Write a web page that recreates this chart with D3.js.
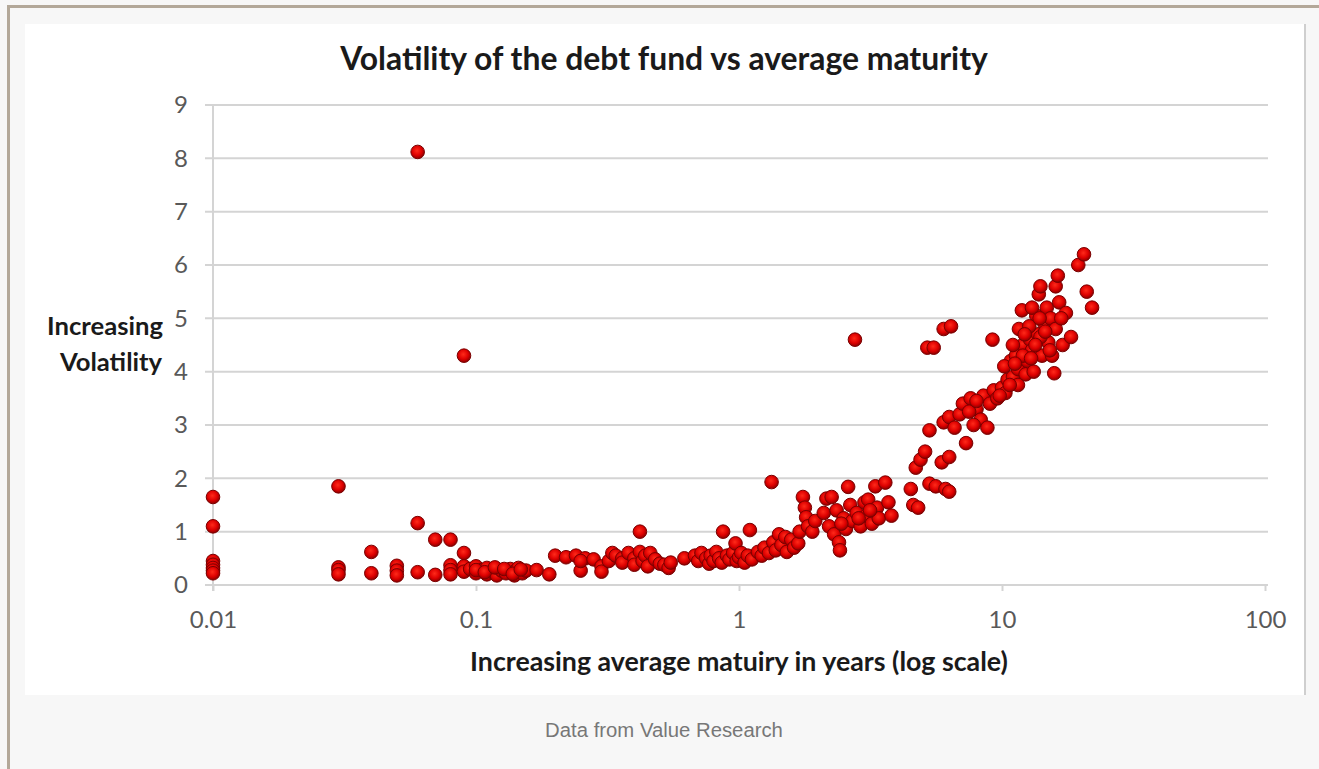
<!DOCTYPE html>
<html>
<head>
<meta charset="utf-8">
<script src="https://cdn.jsdelivr.net/npm/d3@7"></script>
<style>
  html, body { margin: 0; padding: 0; background: #f7f7f7; }
  svg { display: block; }
</style>
</head>
<body>
<svg id="chart" width="1319" height="769"></svg>
<script>
// ---------- data ----------
const titleText = "Volatility of the debt fund vs average maturity";
const xLabelText = "Increasing average matuiry in years (log scale)";
const yLabelLines = ["Increasing", "Volatility"];
const captionText = "Data from Value Research";
const xTickValues = [0.01, 0.1, 1, 10, 100];
const xTickLabels = ["0.01", "0.1", "1", "10", "100"];
const yTickValues = [0, 1, 2, 3, 4, 5, 6, 7, 8, 9];

// average maturity (years)
const maturity = [
  0.01,0.01,0.01,0.01,0.01,0.01,0.01,
  0.03,0.03,0.03,0.03,
  0.04,0.04,
  0.05,0.05,0.05,
  0.06,0.06,0.06,
  0.07,0.07,
  0.08,0.08,0.08,0.08,
  0.09,0.09,0.09,0.09,
  0.095,0.1,0.1,0.105,0.11,0.11,0.115,0.12,0.12,0.125,0.13,0.135,0.14,0.14,0.145,0.15,0.155,
  0.1,0.108,0.118,0.128,0.138,0.148,
  0.17,0.19,
  0.2,0.22,0.24,0.26,0.25,0.25,
  0.28,0.3,0.3,0.32,0.33,0.34,0.36,0.36,
  0.38,0.4,0.4,0.42,0.42,0.43,0.44,0.45,0.46,0.48,0.5,0.52,0.54,0.55,
  0.62,0.68,0.7,0.72,0.75,0.77,0.78,0.8,0.82,0.84,0.86,0.87,0.9,0.92,0.95,0.97,0.98,1.0,1.02,1.05,1.08,1.1,1.12,1.18,1.22,1.25,
  1.3,1.33,1.35,1.38,1.42,1.45,1.5,1.52,1.58,1.62,1.68,1.7,
  1.75,1.78,1.8,1.83,1.9,1.95,
  2.1,2.15,2.2,2.25,2.3,2.35,2.4,2.42,2.5,2.55,2.6,2.65,2.7,2.76,2.8,2.9,3.0,3.05,3.1,3.2,3.3,3.35,3.4,3.6,3.7,3.8,
  2.45,2.85,3.15,
  4.5,4.6,4.8,4.7,4.9,5.1,5.3,5.3,5.6,6.1,6.3,5.9,6.3,5.2,5.5,6.0,6.4,
  6.0,6.3,6.6,6.9,7.3,7.1,7.6,8.0,8.3,8.8,8.5,9.0,9.2,9.3,9.6,10.0,10.3,10.5,10.8,11.0,11.3,11.5,11.6,11.9,12.0,12.3,12.5,12.8,13.0,13.2,13.5,13.7,13.8,14.0,14.2,14.5,14.8,15.0,15.3,15.8,16.0,16.0,16.3,16.5,17.0,17.5,18.3,19.5,20.5,21.0,22.0,
  10.2,11.0,12.0,12.7,13.0,14.0,15.5,16.8,11.5,10.7,7.5,8.0,7.8,
  11.2,12.2,13.4,14.6,15.2,13.9,12.9,9.8
];
// volatility
const volatility = [
  1.65,1.1,0.45,0.38,0.32,0.27,0.22,
  1.85,0.33,0.28,0.2,
  0.62,0.22,
  0.36,0.27,0.18,
  8.12,1.16,0.24,
  0.85,0.19,
  0.85,0.37,0.28,0.2,
  4.3,0.6,0.35,0.25,
  0.3,0.35,0.22,0.28,0.32,0.2,0.25,0.3,0.18,0.27,0.22,0.3,0.25,0.18,0.32,0.22,0.27,
  0.28,0.24,0.33,0.3,0.21,0.29,
  0.28,0.2,
  0.55,0.52,0.55,0.5,0.27,0.45,
  0.48,0.35,0.25,0.45,0.6,0.55,0.5,0.42,
  0.6,0.5,0.38,1.0,0.62,0.45,0.55,0.35,0.6,0.48,0.4,0.38,0.32,0.42,
  0.5,0.55,0.45,0.6,0.5,0.4,0.55,0.45,0.62,0.5,0.42,1.0,0.55,0.48,0.6,0.78,0.45,0.52,0.6,0.42,0.55,1.03,0.48,0.62,0.55,0.7,
  0.6,1.93,0.8,0.65,0.95,0.75,0.9,0.62,0.85,0.7,0.78,1.0,
  1.65,1.45,1.27,1.1,1.0,1.2,
  1.35,1.62,1.1,1.65,0.95,1.4,0.8,0.65,1.25,1.05,1.84,1.5,1.2,4.6,1.35,1.1,1.55,1.3,1.6,1.15,1.85,1.45,1.25,1.92,1.55,1.3,
  1.15,1.25,1.4,
  1.8,1.5,1.45,2.2,2.35,2.5,2.9,1.9,1.85,1.8,1.75,2.3,2.4,4.45,4.45,4.8,4.85,
  3.05,3.15,2.95,3.2,2.66,3.4,3.5,3.3,3.1,2.95,3.55,3.4,4.6,3.65,3.5,3.7,3.6,3.85,4.2,3.9,4.3,4.05,4.8,5.15,4.5,3.95,4.2,4.6,4.4,4.0,5.05,4.7,5.45,5.6,4.3,4.9,5.2,4.55,5.0,3.97,4.8,5.6,5.8,5.3,4.5,5.1,4.65,6.0,6.2,5.5,5.2,
  4.1,4.5,4.3,4.85,5.2,4.65,4.3,5.0,3.75,3.75,3.25,3.45,3.0,
  4.15,4.7,4.5,4.75,4.4,5.0,4.25,3.55
];

// ---------- layout ----------
const svg = d3.select("#chart");
const W = 1319, H = 769;

// outer frame lines
svg.append("rect").attr("x", 7).attr("y", 5).attr("width", W - 7).attr("height", 3).attr("fill", "#b3a899");
svg.append("rect").attr("x", 7).attr("y", 5).attr("width", 3).attr("height", H - 5).attr("fill", "#b3a899");

// white image panel
svg.append("rect").attr("x", 25).attr("y", 24).attr("width", 1280).attr("height", 671).attr("fill", "#ffffff");
svg.append("rect").attr("x", 1304).attr("y", 24).attr("width", 2).attr("height", 671).attr("fill", "#cfcfcf");

const x = d3.scaleLog().domain([0.01, 100]).range([213, 1265]);
const y = d3.scaleLinear().domain([0, 9]).range([585, 105]);

const tickColor = "#595959";
const fontUI = "Lato, 'Open Sans', 'DejaVu Sans', sans-serif";

// gridlines
svg.append("g").selectAll("line").data(yTickValues).join("line")
  .attr("x1", 205).attr("x2", 1268)
  .attr("y1", d => y(d)).attr("y2", d => y(d))
  .attr("stroke", "#d4d4d4").attr("stroke-width", 2);

// vertical axis line
svg.append("line").attr("x1", x(0.01)).attr("x2", x(0.01))
  .attr("y1", y(9)).attr("y2", y(0) + 6)
  .attr("stroke", "#d4d4d4").attr("stroke-width", 2);

// y axis
const yAxis = d3.axisLeft(y).tickValues(yTickValues).tickSize(0).tickPadding(0).tickFormat(d3.format("d"));
const gy = svg.append("g").attr("transform", "translate(188,0)").call(yAxis);
gy.attr("font-size", null).attr("font-family", null);
gy.select(".domain").remove();
gy.selectAll("text").attr("fill", tickColor).style("font-family", fontUI).style("font-size", "24px");

// x axis
const xAxis = d3.axisBottom(x).tickValues(xTickValues).tickSize(6).tickPadding(20)
  .tickFormat((d, i) => xTickLabels[i]);
const gx = svg.append("g").attr("transform", `translate(0,${y(0)})`).call(xAxis);
gx.attr("font-size", null).attr("font-family", null);
gx.select(".domain").remove();
gx.selectAll("line").attr("stroke", "#d4d4d4").attr("stroke-width", 2);
gx.selectAll("text").attr("fill", tickColor).style("font-family", fontUI).style("font-size", "24px");

// gradient for markers
const defs = svg.append("defs");
const grad = defs.append("radialGradient").attr("id", "dot").attr("cx", "45%").attr("cy", "40%").attr("r", "60%");
grad.append("stop").attr("offset", "0%").attr("stop-color", "#ff2a1a");
grad.append("stop").attr("offset", "60%").attr("stop-color", "#dd0000");
grad.append("stop").attr("offset", "100%").attr("stop-color", "#8a0000");

// points
const pts = maturity.map((m, i) => ({ m, v: volatility[i] }));
svg.append("g").selectAll("circle").data(pts).join("circle")
  .attr("cx", d => x(d.m)).attr("cy", d => y(d.v)).attr("r", 6.8)
  .attr("fill", "url(#dot)").attr("stroke", "#7a0000").attr("stroke-width", 1);

// title
function fitText(sel, width) {
  const w = sel.node().getComputedTextLength();
  const fs = parseFloat(sel.attr("font-size"));
  sel.attr("font-size", fs * width / w);
}
const title = svg.append("text").attr("x", 664).attr("y", 70)
  .attr("text-anchor", "middle").attr("font-family", fontUI).attr("font-weight", "bold")
  .attr("font-size", 26).attr("fill", "#1a1a1a").text(titleText);
fitText(title, 648);

// x label
const xl = svg.append("text").attr("x", 739).attr("y", 671)
  .attr("text-anchor", "middle").attr("font-family", fontUI).attr("font-weight", "bold")
  .attr("font-size", 20).attr("fill", "#1a1a1a").text(xLabelText);
fitText(xl, 538);

// y label
const yl1 = svg.append("text").attr("x", 105).attr("y", 335)
  .attr("text-anchor", "middle").attr("font-family", fontUI).attr("font-weight", "bold")
  .attr("font-size", 19).attr("fill", "#1a1a1a").text(yLabelLines[0]);
fitText(yl1, 116);
const yl2 = svg.append("text").attr("x", 111).attr("y", 371)
  .attr("text-anchor", "middle").attr("font-family", fontUI).attr("font-weight", "bold")
  .attr("font-size", 19).attr("fill", "#1a1a1a").text(yLabelLines[1]);
yl2.attr("font-size", yl1.attr("font-size"));

// caption
const cap = svg.append("text").attr("x", 664).attr("y", 737)
  .attr("text-anchor", "middle").attr("font-family", "Arial, 'Liberation Sans', sans-serif")
  .attr("font-size", 20).attr("fill", "#777777").text(captionText);
fitText(cap, 238);
</script>
</body>
</html>
